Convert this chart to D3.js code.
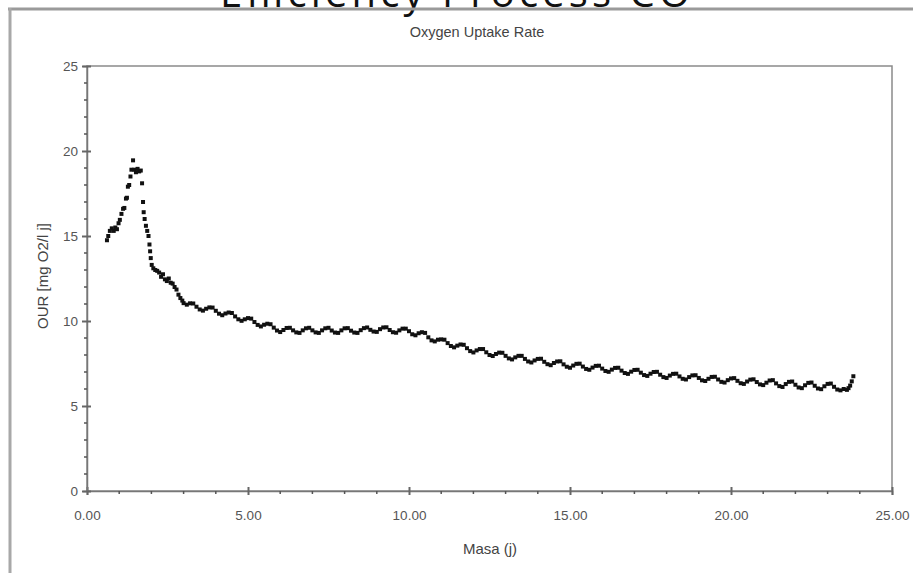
<!DOCTYPE html>
<html>
<head>
<meta charset="utf-8">
<script src="https://cdn.jsdelivr.net/npm/d3@7"></script>
<style>
  body { margin: 0; background: #fff; }
  svg text { font-family: "Liberation Sans Narrow", "Liberation Sans", Arial, sans-serif; }
</style>
</head>
<body>
<div class="vis"></div>
<script>
const masa = [
  0.62, 0.66, 0.71, 0.77, 0.83, 0.88, 0.93, 0.98, 1.02, 1.07, 1.12, 1.16, 1.21, 1.24, 1.27, 1.31,
  1.35, 1.38, 1.43, 1.47, 1.52, 1.57, 1.62, 1.67, 1.71, 1.74, 1.76, 1.79, 1.83, 1.87, 1.91, 1.94,
  1.96, 1.98, 2.01, 2.06, 2.12, 2.18, 2.24, 2.3, 2.36, 2.42, 2.48, 2.54, 2.6, 2.66, 2.72, 2.78,
  2.84, 2.9, 2.96, 3.0,
  3.1, 3.2, 3.3, 3.4, 3.5, 3.6, 3.7, 3.8, 3.9, 4.0, 4.1, 4.2, 4.3, 4.4, 4.5, 4.6, 4.7, 4.8, 4.9,
  5.0, 5.1, 5.2, 5.3, 5.4, 5.5, 5.6, 5.7, 5.8, 5.9, 6.0, 6.1, 6.2, 6.3, 6.4, 6.5, 6.6, 6.7, 6.8,
  6.9, 7.0, 7.1, 7.2, 7.3, 7.4, 7.5, 7.6, 7.7, 7.8, 7.9, 8.0, 8.1, 8.2, 8.3, 8.4, 8.5, 8.6, 8.7,
  8.8, 8.9, 9.0, 9.1, 9.2, 9.3, 9.4, 9.5, 9.6, 9.7, 9.8, 9.9, 10.0, 10.1, 10.2, 10.3, 10.4, 10.5,
  10.6, 10.7, 10.8, 10.9, 11.0, 11.1, 11.2, 11.3, 11.4, 11.5, 11.6, 11.7, 11.8, 11.9, 12.0, 12.1,
  12.2, 12.3, 12.4, 12.5, 12.6, 12.7, 12.8, 12.9, 13.0, 13.1, 13.2, 13.3, 13.4, 13.5, 13.6, 13.7,
  13.8, 13.9, 14.0, 14.1, 14.2, 14.3, 14.4, 14.5, 14.6, 14.7, 14.8, 14.9, 15.0, 15.1, 15.2, 15.3,
  15.4, 15.5, 15.6, 15.7, 15.8, 15.9, 16.0, 16.1, 16.2, 16.3, 16.4, 16.5, 16.6, 16.7, 16.8, 16.9,
  17.0, 17.1, 17.2, 17.3, 17.4, 17.5, 17.6, 17.7, 17.8, 17.9, 18.0, 18.1, 18.2, 18.3, 18.4, 18.5,
  18.6, 18.7, 18.8, 18.9, 19.0, 19.1, 19.2, 19.3, 19.4, 19.5, 19.6, 19.7, 19.8, 19.9, 20.0, 20.1,
  20.2, 20.3, 20.4, 20.5, 20.6, 20.7, 20.8, 20.9, 21.0, 21.1, 21.2, 21.3, 21.4, 21.5, 21.6, 21.7,
  21.8, 21.9, 22.0, 22.1, 22.2, 22.3, 22.4, 22.5, 22.6, 22.7, 22.8, 22.9, 23.0, 23.1, 23.2, 23.3,
  23.4, 23.5, 23.6, 23.65, 23.7, 23.75, 23.8
]
const our = [
  14.75, 15.0, 15.3, 15.45, 15.3, 15.5, 15.4, 15.75, 15.95, 16.3, 16.6, 16.65, 17.2, 17.25, 17.9, 18.0,
  18.5, 18.9, 19.45, 18.9, 18.75, 18.95, 18.8, 18.85, 18.1, 17.0, 16.4, 16.0, 15.6, 15.3, 15.0, 14.5,
  14.1, 13.7, 13.3, 13.1, 13.0, 12.95, 12.85, 12.6, 12.75, 12.45, 12.35, 12.5, 12.25, 12.2, 12.0, 11.85,
  11.55, 11.35, 11.2, 11.05,
  10.96, 11.04, 11.03, 10.84, 10.68, 10.61, 10.72, 10.8, 10.79, 10.6, 10.43, 10.34, 10.44, 10.5, 10.47, 10.27, 10.1, 10.01, 10.1,
  10.17, 10.14, 9.94, 9.77, 9.68, 9.78, 9.84, 9.81, 9.61, 9.44, 9.35, 9.47, 9.59, 9.6, 9.45, 9.33, 9.3, 9.45, 9.57,
  9.6, 9.45, 9.33, 9.3, 9.45, 9.57, 9.6, 9.44, 9.32, 9.3, 9.45, 9.57, 9.58, 9.43, 9.32, 9.3, 9.46, 9.58, 9.62,
  9.48, 9.38, 9.36, 9.52, 9.62, 9.63, 9.47, 9.34, 9.31, 9.45, 9.55, 9.55, 9.4, 9.22, 9.16, 9.28, 9.34, 9.3,
  9.04, 8.86, 8.8, 8.9, 8.92, 8.9, 8.7, 8.53, 8.45, 8.55, 8.62, 8.6, 8.4, 8.23, 8.15, 8.27,
  8.35, 8.35, 8.16, 8.0, 7.94, 8.06, 8.14, 8.13, 7.95, 7.8, 7.74, 7.86, 7.95, 7.95, 7.77, 7.62,
  7.56, 7.68, 7.77, 7.78, 7.6, 7.46, 7.4, 7.53, 7.62, 7.63, 7.45, 7.31, 7.25, 7.38, 7.48, 7.49,
  7.32, 7.18, 7.13, 7.26, 7.36, 7.37, 7.2, 7.06, 7.01, 7.14, 7.24, 7.25, 7.08, 6.94, 6.89, 7.02,
  7.12, 7.13, 6.96, 6.82, 6.77, 6.9, 7.0, 7.01, 6.84, 6.7, 6.65, 6.79, 6.89, 6.9, 6.74, 6.6,
  6.56, 6.7, 6.8, 6.81, 6.65, 6.51, 6.47, 6.6, 6.71, 6.72, 6.56, 6.42, 6.38, 6.52, 6.62, 6.64,
  6.48, 6.34, 6.3, 6.44, 6.55, 6.57, 6.41, 6.27, 6.23, 6.37, 6.5, 6.52, 6.33, 6.17, 6.12, 6.29,
  6.42, 6.44, 6.25, 6.09, 6.05, 6.22, 6.36, 6.38, 6.19, 6.03, 5.99, 6.16, 6.3, 6.32, 6.13, 5.97,
  5.92, 6.0, 5.95, 6.05, 6.2, 6.45, 6.75
]
const xTicks = [0, 5, 10, 15, 20, 25]
const yTicks = [0, 5, 10, 15, 20, 25]

const W = 913
const H = 573
const plot = { left: 87, right: 892, top: 66, bottom: 491 }

const svg = d3.select('.vis').append('svg').attr('width', W).attr('height', H)

// page heading cut off by the top edge
svg.append('text')
  .attr('x', 220).attr('y', 7)
  .attr('textLength', 470)
  .attr('lengthAdjust', 'spacing')
  .style('font-family', '"Open Sans", sans-serif')
  .style('font-size', '40px')
  .attr('fill', '#111')
  .text('Efficiency Process CO')

svg.append('line').attr('x1', 8).attr('x2', W).attr('y1', 9).attr('y2', 9)
  .attr('stroke', '#9a9a9a').attr('stroke-width', 3)
svg.append('line').attr('x1', 10).attr('x2', 10).attr('y1', 8).attr('y2', H)
  .attr('stroke', '#a8a8a8').attr('stroke-width', 3)

const x = d3.scaleLinear().domain([0, 25]).range([plot.left, plot.right])
const y = d3.scaleLinear().domain([0, 25]).range([plot.bottom, plot.top])

// frame of the plot
svg.append('rect')
  .attr('x', plot.left).attr('y', plot.top)
  .attr('width', plot.right - plot.left).attr('height', plot.bottom - plot.top)
  .attr('fill', 'none').attr('stroke', '#8a8a8a').attr('stroke-width', 1.5)

// axes
const xAxis = d3.axisBottom(x).tickValues(xTicks).tickFormat(d3.format('.2f')).tickSize(4)
const yAxis = d3.axisLeft(y).tickValues(yTicks).tickFormat(d3.format('d')).tickSize(4)

function styleAxis(g) {
  g.select('.domain').attr('stroke', '#777').attr('stroke-width', 1.5)
  g.selectAll('.tick line').attr('stroke', '#666').attr('stroke-width', 2)
  g.selectAll('.tick text').attr('fill', '#555').style('font-size', '13.5px')
}

const gx = svg.append('g')
  .attr('transform', `translate(0,${plot.bottom})`)
  .call(xAxis)
  .call(styleAxis)
gx.selectAll('.tick line').attr('y1', -4)
gx.selectAll('.tick text').attr('dy', '1.65em')

const gy = svg.append('g')
  .attr('transform', `translate(${plot.left},0)`)
  .call(yAxis)
  .call(styleAxis)
gy.selectAll('.tick line').attr('x1', 4).attr('x2', -5)
gy.selectAll('.tick text').attr('x', -9).attr('dy', '0.32em')

// minor ticks
svg.append('g').selectAll('line')
  .data(d3.range(1, 25).filter(d => d % 5))
  .join('line')
  .attr('x1', d => x(d)).attr('x2', d => x(d))
  .attr('y1', plot.bottom).attr('y2', plot.bottom + 3)
  .attr('stroke', '#555').attr('stroke-width', 1.5)

svg.append('g').selectAll('line')
  .data(d3.range(1, 25).filter(d => d % 5))
  .join('line')
  .attr('x1', plot.left - 3).attr('x2', plot.left)
  .attr('y1', d => y(d)).attr('y2', d => y(d))
  .attr('stroke', '#555').attr('stroke-width', 1.5)

// titles
svg.append('text')
  .attr('x', 477).attr('y', 37)
  .attr('text-anchor', 'middle')
  .attr('fill', '#444')
  .style('font-size', '14.5px')
  .text('Oxygen Uptake Rate')

svg.append('text')
  .attr('x', 490).attr('y', 554)
  .attr('text-anchor', 'middle')
  .attr('fill', '#444')
  .style('font-size', '15px')
  .text('Masa (j)')

svg.append('text')
  .attr('transform', `translate(48,276) rotate(-90)`)
  .attr('text-anchor', 'middle')
  .attr('fill', '#444')
  .style('font-size', '15px')
  .text('OUR [mg O2/l j]')

// data points
const pts = masa.map((m, i) => ({ m, v: our[i] }))
svg.append('g').selectAll('rect')
  .data(pts)
  .join('rect')
  .attr('x', d => x(d.m) - 2)
  .attr('y', d => y(d.v) - 2)
  .attr('width', 4)
  .attr('height', 4)
  .attr('fill', '#111')
</script>
</body>
</html>
